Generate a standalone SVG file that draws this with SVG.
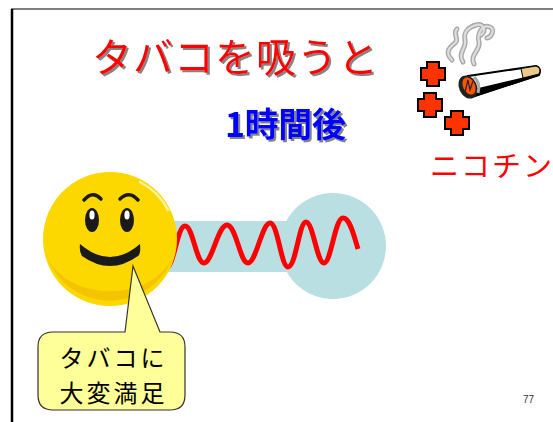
<svg xmlns="http://www.w3.org/2000/svg" width="553" height="422" viewBox="0 0 553 422">
  <defs>
    <style>
      .jp { font-family: "Noto Sans CJK JP", "Noto Sans", sans-serif; }
      .title { font-size: 40px; fill: #FF0000; filter: url(#textShadow); }
      .sub { font-size: 34px; font-weight: bold; fill: #0000FF; filter: url(#textShadow); }
      .cross { fill: #FF3300; stroke: #000; stroke-width: 2; stroke-linejoin: miter; }
      .smoke-edge { fill: none; stroke: #a8a8a8; stroke-width: 5; stroke-linecap: round; stroke-linejoin: round; }
      .smoke { fill: none; stroke: #dedede; stroke-width: 2.2; stroke-linecap: round; stroke-linejoin: round; }
      .face-line { fill: none; stroke: #1a1a1a; stroke-width: 3.5; stroke-linecap: round; }
      .note { font-size: 24px; fill: #000; }
    </style>
    <filter id="textShadow" x="-5%" y="-20%" width="115%" height="150%">
      <feDropShadow dx="2" dy="2" stdDeviation="0.6" flood-color="#777" flood-opacity="0.9"/>
    </filter>
    <path id="plus" d="M-6,-12 H6 V-6 H12 V6 H6 V12 H-6 V6 H-12 V-6 H-6 Z"/>
    <g id="smoke-trails">
      <path d="M452,60 C444,52 450,47 455,43 C460,39 452,34 457,29"/>
      <path d="M463,62 C457,53 467,48 465,40 C463,32 469,27 476,25 C483,23 487,30 481,35"/>
      <path d="M474,64 C469,55 481,50 479,42 C477,34 482,24 490,27 C495,29 492,37 487,38"/>
    </g>
  </defs>

  <rect width="553" height="422" fill="#fff"/>

  <!-- slide frame -->
  <g id="frame">
    <line x1="11" y1="9" x2="553" y2="9" stroke="#555" stroke-width="1.5"/>
    <line x1="12" y1="9" x2="12" y2="422" stroke="#000" stroke-width="2.5"/>
  </g>

  <!-- heading -->
  <g id="title" class="jp">
    <text class="title" x="92" y="72" textLength="286" lengthAdjust="spacing">タバコを吸うと</text>
  </g>
  <g id="subtitle" class="jp">
    <text class="sub" x="225" y="137" textLength="121" lengthAdjust="spacing">1時間後</text>
  </g>

  <!-- cigarette with smoke and nicotine particles -->
  <g id="cigarette">
    <use href="#smoke-trails" class="smoke-edge"/>
    <use href="#smoke-trails" class="smoke"/>
    <use href="#plus" class="cross" x="433" y="74"/>
    <use href="#plus" class="cross" x="430" y="105"/>
    <use href="#plus" class="cross" x="457" y="123"/>
    <!-- body -->
    <path d="M468,76 L536,66 Q542,68 539,75 L472,97 Z" fill="#fff" stroke="#000" stroke-width="2"/>
    <path d="M470,90 L538,74 L539,76 L474,97 Z" fill="#000"/>
    <path d="M521,68.5 L536,66 Q542,68 539,74 L523,78 Z" fill="#E8C98A" stroke="#000" stroke-width="1"/>
    <!-- lit end -->
    <ellipse cx="468" cy="87" rx="9" ry="12" transform="rotate(-25 468 87)" fill="#222"/>
    <ellipse cx="469" cy="86" rx="6" ry="9" transform="rotate(-25 469 86)" fill="#FF5500"/>
    <path d="M465,92 L468,80 L470,90 L473,81" fill="none" stroke="#222" stroke-width="1.2"/>
    <path d="M474,77 Q481,83 478,93" fill="none" stroke="#aaa" stroke-width="3"/>
  </g>

  <g id="nicotine" class="jp">
    <text x="430" y="177" font-size="29" fill="#FF0000" letter-spacing="2">ニコチン</text>
  </g>

  <!-- receptor -->
  <g id="receptor">
    <rect x="168" y="221" width="140" height="51" fill="#BADFE3"/>
    <circle cx="333" cy="246" r="53" fill="#BADFE3"/>
  </g>

  <!-- binding signal -->
  <g id="connectors">
    <path d="M150,252 C155,262 160,268 166,268 C174,268 177,226 185,226 C193,226 196,263 204,263 C212,263 218,225 227,225 C236,225 240,263 248,263 C256,263 262,223 270,223 C278,223 281,267 288,267 C296,267 299,222 306,222 C313,222 317,263 324,263 C331,263 335,218 343,218 C350,218 354,236 358,249" fill="none" stroke="#FF0000" stroke-width="5"/>
  </g>

  <!-- smiling face -->
  <g id="smiley">
    <circle cx="110" cy="239" r="67" fill="#FCD800"/>
    <path d="M45,250 A67,67 0 0 0 175,250 A66,50 0 0 1 45,250 Z" fill="#F5C400"/>
    <path d="M140,182 A64,64 0 0 1 168,210" fill="none" stroke="#fff3a0" stroke-width="2.5" stroke-linecap="round"/>
    <path class="face-line" d="M84,200 Q93,190 101,199"/>
    <path class="face-line" d="M120,199 Q129,190 138,200"/>
    <ellipse cx="92" cy="220" rx="7" ry="12" fill="#1a1a1a"/>
    <ellipse cx="127" cy="220" rx="7" ry="12" fill="#1a1a1a"/>
    <ellipse cx="92" cy="215" rx="2.6" ry="4.5" fill="#fff"/>
    <ellipse cx="127" cy="215" rx="2.6" ry="4.5" fill="#fff"/>
    <path d="M80,244 Q110,270 140,244 Q141,254 138,256 Q110,276 82,256 Q79,252 80,244 Z" fill="#1a1a1a"/>
  </g>

  <!-- speech bubble -->
  <g id="bubble">
    <path d="M53,332 H125 L133,266 L160,332 H170 Q185,332 185,347 V395 Q185,410 170,410 H53 Q38,410 38,395 V347 Q38,332 53,332 Z" fill="#FFFF99" stroke="#333" stroke-width="1.2"/>
    <text class="jp note" x="113.5" y="367" text-anchor="middle" letter-spacing="3">タバコに</text>
    <text class="jp note" x="113.5" y="402" text-anchor="middle" letter-spacing="3">大変満足</text>
  </g>

  <g id="page-number">
    <text x="523" y="403" font-family="Liberation Sans, sans-serif" font-size="10" fill="#333">77</text>
  </g>
</svg>
